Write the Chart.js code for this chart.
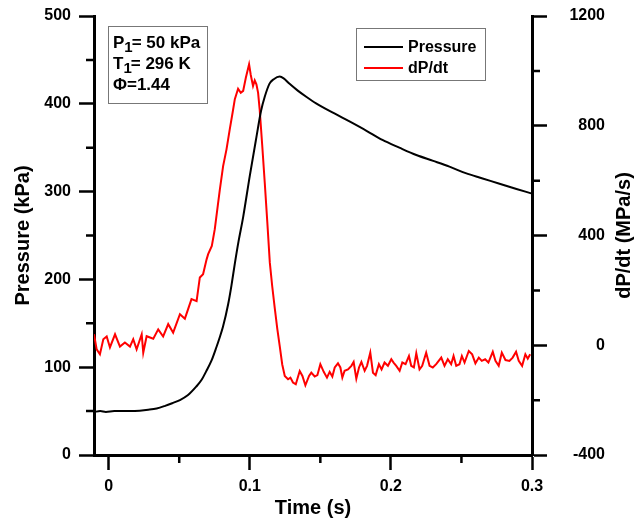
<!DOCTYPE html>
<html>
<head>
<meta charset="utf-8">
<script src="https://cdn.jsdelivr.net/npm/chart.js@4.4.1/dist/chart.umd.min.js"></script>
<style>
  body { margin: 0; background: #fff; }
  canvas { display: block; }
</style>
</head>
<body>
<canvas id="chart" width="634" height="522"></canvas>
<script>
// pressure trace (time in s, pressure in kPa)
const pressureTime = [-0.0104, -0.006, -0.002, 0.004, 0.01, 0.016, 0.022, 0.028, 0.034, 0.04, 0.045, 0.0505, 0.056, 0.062, 0.066, 0.069, 0.073, 0.0764, 0.0785, 0.081, 0.0847, 0.087, 0.0894, 0.092, 0.0953, 0.1, 0.1047, 0.108, 0.1106, 0.114, 0.117, 0.1212, 0.124, 0.128, 0.134, 0.14, 0.147, 0.16, 0.171, 0.183, 0.194, 0.206, 0.218, 0.23, 0.2415, 0.253, 0.265, 0.277, 0.289, 0.2994];
const pressure = [49, 50, 49, 50, 50, 50, 50.5, 51.5, 53, 56, 59, 62.6, 68, 77.8, 86, 95, 108, 123, 133, 146, 172, 193, 218, 243, 271, 318, 362, 392, 408, 423, 428, 431, 429, 423, 415, 408, 400.5, 389, 379.6, 369, 358.8, 350, 341.7, 335, 328.4, 321, 315, 309, 303, 298];

// pressure rise rate (time in s, dP/dt in MPa/s)
const dpdtTime = [-0.0104, -0.0085, -0.0062, -0.0038, -0.0014, 0.0009, 0.0045, 0.008, 0.0115, 0.0151, 0.0174, 0.0198, 0.0234, 0.0245, 0.0269, 0.0316, 0.0351, 0.0386, 0.0422, 0.0457, 0.0505, 0.054, 0.0587, 0.0623, 0.0646, 0.0669, 0.0694, 0.0705, 0.0731, 0.0752, 0.0773, 0.0788, 0.0811, 0.0835, 0.0858, 0.0879, 0.0894, 0.0917, 0.0936, 0.0953, 0.0972, 0.0995, 0.1007, 0.1023, 0.1035, 0.1047, 0.1059, 0.107, 0.1088, 0.1106, 0.1124, 0.1142, 0.1159, 0.1177, 0.1195, 0.1212, 0.123,
  0.1248, 0.1271, 0.1288, 0.1306, 0.1326, 0.1354, 0.1373, 0.1394, 0.142, 0.1436, 0.146, 0.1479, 0.15, 0.1524, 0.1547, 0.1566, 0.1585, 0.1602, 0.1625, 0.1642, 0.1656, 0.1672, 0.1696, 0.172, 0.1736, 0.1755, 0.1774, 0.1791, 0.1814, 0.1831, 0.1854, 0.1873, 0.1892, 0.1915, 0.1934, 0.1955, 0.1979, 0.2003, 0.2019, 0.2038, 0.2062, 0.2081, 0.2104, 0.2128, 0.2144, 0.2163, 0.218, 0.2203, 0.2222, 0.225, 0.2274, 0.2297, 0.2321, 0.2357, 0.238, 0.2403, 0.2427, 0.2444, 0.2463, 0.2486, 0.2503, 0.2522, 0.2552, 0.2576, 0.2599, 0.2623, 0.2644, 0.2668, 0.2691, 0.2722, 0.2741, 0.2764, 0.2786, 0.2812, 0.284, 0.2863, 0.2887, 0.2906, 0.293, 0.2953, 0.297, 0.2987];
const dpdt = [40, -15, -33, 22, 32, -8, 40, -5, 10, -5, 22, -15, 40, -27, 33, 24, 58, 32, 77, 46, 113, 97, 168, 161, 247, 259, 313, 332, 362, 423, 508, 568, 653, 714, 787, 850, 897, 935, 920, 927, 975, 1024, 985, 945, 965, 951, 920, 860, 730, 593, 450, 301, 215, 135, 60, -2, -70,
  -112, -124, -118, -136, -142, -94, -112, -146, -112, -100, -114, -109, -69, -97, -118, -97, -114, -81, -66, -81, -118, -93, -88, -75, -61, -122, -81, -61, -93, -75, -27, -100, -109, -69, -88, -63, -75, -51, -63, -75, -93, -63, -69, -39, -75, -81, -29, -88, -75, -27, -75, -81, -69, -45, -75, -51, -69, -39, -75, -69, -39, -63, -21, -33, -66, -45, -57, -51, -63, -24, -57, -75, -27, -54, -57, -45, -24, -57, -75, -33, -49, -33];

// axis ticks
const timeTicks = [0, 0.1, 0.2, 0.3];
const timeMinor = [0.05, 0.15, 0.25];
const pressureTicks = [0, 100, 200, 300, 400, 500];
const pressureMinor = [50, 150, 250, 350, 450];
const dpdtTicks = [-400, 0, 400, 800, 1200];
const dpdtMinor = [-200, 200, 600, 1000];

const conditions = ['= 50 kPa', '= 296 K', '=1.44'];

const FONT = '"Liberation Sans", Arial, sans-serif';

const toPoints = (xs, ys) => xs.map((x, i) => ({x: x, y: ys[i]}));

// no extra room for labels hanging over the plot edges
const noOverhang = s => {
    s.paddingTop = 0;
    s.paddingBottom = 0;
    s.paddingLeft = 0;
    s.paddingRight = 0;
};

const minorTicks = {
    id: 'minorTicks',
    afterDraw(chart) {
        const ctx = chart.ctx;
        const {x, y, y1} = chart.scales;
        const area = chart.chartArea;
        ctx.save();
        ctx.strokeStyle = '#000';
        ctx.lineWidth = 2.5;
        ctx.beginPath();
        timeMinor.forEach(v => {
            const px = x.getPixelForValue(v);
            ctx.moveTo(px, area.bottom);
            ctx.lineTo(px, area.bottom + 8);
        });
        pressureMinor.forEach(v => {
            const py = y.getPixelForValue(v);
            ctx.moveTo(area.left - 8, py);
            ctx.lineTo(area.left, py);
        });
        dpdtMinor.forEach(v => {
            const py = y1.getPixelForValue(v);
            ctx.moveTo(area.right, py);
            ctx.lineTo(area.right + 8, py);
        });
        ctx.stroke();

        // right axis title, reading bottom to top
        ctx.fillStyle = '#000';
        ctx.font = 'bold 20px ' + FONT;
        ctx.textAlign = 'center';
        ctx.textBaseline = 'middle';
        ctx.translate(624, (area.top + area.bottom) / 2);
        ctx.rotate(-Math.PI / 2);
        ctx.fillText('dP/dt (MPa/s)', 0, 0);
        ctx.restore();
    }
};

const boxes = {
    id: 'boxes',
    afterDraw(chart) {
        const ctx = chart.ctx;
        ctx.save();
        ctx.strokeStyle = '#777';
        ctx.lineWidth = 1;

        // conditions box
        ctx.strokeRect(108.5, 26.5, 99, 77);
        ctx.fillStyle = '#000';
        ctx.textBaseline = 'alphabetic';
        ctx.textAlign = 'left';
        const labels = ['P', 'T', '\u03A6'];
        const baselines = [48, 69, 90];
        labels.forEach((l, i) => {
            ctx.font = 'bold 17px ' + FONT;
            let xPos = 113;
            ctx.fillText(l, xPos, baselines[i]);
            xPos += ctx.measureText(l).width;
            if (i < 2) {
                ctx.font = 'bold 15px ' + FONT;
                ctx.fillText('1', xPos, baselines[i] + 4);
                xPos += ctx.measureText('1').width - 1;
                ctx.font = 'bold 17px ' + FONT;
            }
            ctx.fillText(conditions[i], xPos, baselines[i]);
        });

        // legend box
        ctx.strokeStyle = '#777';
        ctx.strokeRect(356.5, 28.5, 129, 52);
        const rows = [47, 68];
        chart.data.datasets.forEach((ds, i) => {
            ctx.strokeStyle = ds.borderColor;
            ctx.lineWidth = 2;
            ctx.beginPath();
            ctx.moveTo(364, rows[i]);
            ctx.lineTo(403, rows[i]);
            ctx.stroke();
            ctx.fillStyle = '#000';
            ctx.font = 'bold 16px ' + FONT;
            ctx.textBaseline = 'middle';
            ctx.fillText(ds.label, 408, rows[i] + 1);
        });
        ctx.restore();
    }
};

const axisGrid = {
    drawOnChartArea: false,
    drawTicks: true,
    tickLength: 15,
    tickWidth: 2.5,
    tickColor: '#000'
};

new Chart(document.getElementById('chart'), {
    type: 'line',
    data: {
        datasets: [{
            label: 'Pressure',
            data: toPoints(pressureTime, pressure),
            borderColor: '#000000',
            borderWidth: 2,
            pointRadius: 0,
            cubicInterpolationMode: 'monotone',
            yAxisID: 'y'
        }, {
            label: 'dP/dt',
            data: toPoints(dpdtTime, dpdt),
            borderColor: '#ff0000',
            borderWidth: 2,
            pointRadius: 0,
            yAxisID: 'y1'
        }]
    },
    options: {
        responsive: false,
        animation: false,
        layout: { padding: { top: 16, left: 0, right: 29, bottom: 0 } },
        plugins: {
            legend: { display: false },
            tooltip: { enabled: false }
        },
        scales: {
            x: {
                type: 'linear',
                min: -0.0104,
                max: 0.3,
                afterBuildTicks: s => { s.ticks = timeTicks.map(v => ({value: v})); },
                afterFit: s => { s.height = 67; noOverhang(s); },
                ticks: {
                    color: '#000',
                    font: { family: FONT, size: 16, weight: 'bold' },
                    padding: 7,
                    maxRotation: 0,
                    callback: v => String(v)
                },
                grid: axisGrid,
                border: { color: '#000', width: 3 },
                title: {
                    display: true,
                    text: 'Time (s)',
                    color: '#000',
                    font: { family: FONT, size: 20, weight: 'bold' },
                    padding: { top: 0, bottom: 2 }
                }
            },
            y: {
                position: 'left',
                min: 0,
                max: 500,
                afterBuildTicks: s => { s.ticks = pressureTicks.map(v => ({value: v})); },
                afterFit: s => { s.width = 94; noOverhang(s); },
                ticks: {
                    color: '#000',
                    font: { family: FONT, size: 16, weight: 'bold' },
                    padding: 8,
                    callback: v => String(v)
                },
                grid: axisGrid,
                border: { color: '#000', width: 3 },
                title: {
                    display: true,
                    text: 'Pressure (kPa)',
                    color: '#000',
                    font: { family: FONT, size: 20, weight: 'bold' },
                    padding: { top: 11, bottom: 0 }
                }
            },
            y1: {
                position: 'right',
                min: -400,
                max: 1200,
                afterBuildTicks: s => { s.ticks = dpdtTicks.map(v => ({value: v})); },
                afterFit: s => { s.width = 73; noOverhang(s); },
                ticks: {
                    color: '#000',
                    font: { family: FONT, size: 16, weight: 'bold' },
                    padding: 18,
                    crossAlign: 'far',
                    callback: v => String(v)
                },
                grid: axisGrid,
                border: { color: '#000', width: 3 }
            }
        }
    },
    plugins: [minorTicks, boxes]
});
</script>
</body>
</html>
